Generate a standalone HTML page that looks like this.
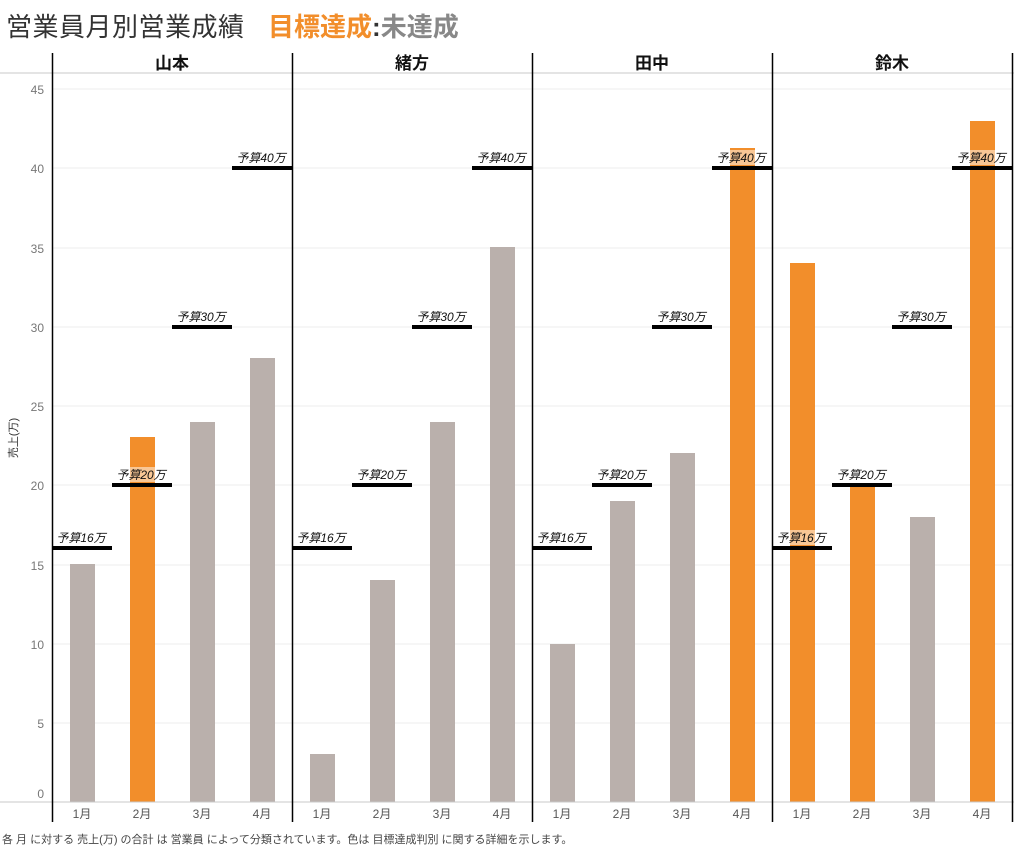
<!DOCTYPE html>
<html><head><meta charset="utf-8">
<style>
body{margin:0;background:#fff;}
svg{display:block;font-family:"Liberation Sans","Noto Sans CJK JP",sans-serif;}
</style></head><body>
<svg width="1014" height="849" viewBox="0 0 1014 849" xmlns="http://www.w3.org/2000/svg">
<text x="6" y="36" font-size="26" fill="#333" letter-spacing="0.5">営業員月別営業成績</text>
<text x="268" y="36" font-size="26" font-weight="bold" fill="#f28e2b">目標達成<tspan fill="#333">:</tspan><tspan fill="#888">未達成</tspan></text>
<line x1="0" y1="73" x2="1014" y2="73" stroke="#c8c8c8"/>
<g stroke="#eee" stroke-width="1">
<line x1="52" y1="89" x2="1012" y2="89"/><line x1="52" y1="168" x2="1012" y2="168"/>
<line x1="52" y1="248" x2="1012" y2="248"/><line x1="52" y1="327" x2="1012" y2="327"/>
<line x1="52" y1="406" x2="1012" y2="406"/><line x1="52" y1="485" x2="1012" y2="485"/>
<line x1="52" y1="565" x2="1012" y2="565"/><line x1="52" y1="644" x2="1012" y2="644"/>
<line x1="52" y1="723" x2="1012" y2="723"/>
</g>
<g font-size="12" fill="#777" text-anchor="end">
<text x="44" y="94">45</text><text x="44" y="173">40</text><text x="44" y="253">35</text>
<text x="44" y="332">30</text><text x="44" y="411">25</text><text x="44" y="490">20</text>
<text x="44" y="570">15</text><text x="44" y="649">10</text><text x="44" y="728">5</text>
<text x="44" y="798">0</text>
</g>
<text transform="translate(17,438) rotate(-90)" font-size="11" fill="#333" text-anchor="middle">売上(万)</text>
<g font-size="17" font-weight="bold" fill="#111" text-anchor="middle">
<text x="172" y="69">山本</text><text x="412" y="69">緒方</text><text x="652" y="69">田中</text><text x="892" y="69">鈴木</text>
</g>
<g>
<rect x="70" y="564" width="25" height="238" fill="#bab0ac"/>
<rect x="130" y="437" width="25" height="365" fill="#f28e2b"/>
<rect x="190" y="422" width="25" height="380" fill="#bab0ac"/>
<rect x="250" y="358" width="25" height="444" fill="#bab0ac"/>
<rect x="310" y="754" width="25" height="48" fill="#bab0ac"/>
<rect x="370" y="580" width="25" height="222" fill="#bab0ac"/>
<rect x="430" y="422" width="25" height="380" fill="#bab0ac"/>
<rect x="490" y="247" width="25" height="555" fill="#bab0ac"/>
<rect x="550" y="644" width="25" height="158" fill="#bab0ac"/>
<rect x="610" y="501" width="25" height="301" fill="#bab0ac"/>
<rect x="670" y="453" width="25" height="349" fill="#bab0ac"/>
<rect x="730" y="148" width="25" height="654" fill="#f28e2b"/>
<rect x="790" y="263" width="25" height="539" fill="#f28e2b"/>
<rect x="850" y="485" width="25" height="317" fill="#f28e2b"/>
<rect x="910" y="517" width="25" height="285" fill="#bab0ac"/>
<rect x="970" y="121" width="25" height="681" fill="#f28e2b"/>
</g>
<g fill="#000">
<rect x="52" y="546" width="60" height="4"/><rect x="112" y="483" width="60" height="4"/><rect x="172" y="325" width="60" height="4"/><rect x="232" y="166" width="60" height="4"/>
<rect x="292" y="546" width="60" height="4"/><rect x="352" y="483" width="60" height="4"/><rect x="412" y="325" width="60" height="4"/><rect x="472" y="166" width="60" height="4"/>
<rect x="532" y="546" width="60" height="4"/><rect x="592" y="483" width="60" height="4"/><rect x="652" y="325" width="60" height="4"/><rect x="712" y="166" width="60" height="4"/>
<rect x="772" y="546" width="60" height="4"/><rect x="832" y="483" width="60" height="4"/><rect x="892" y="325" width="60" height="4"/><rect x="952" y="166" width="60" height="4"/>
</g>
<g fill="#fff" fill-opacity="0.5">
<rect x="130" y="467" width="25" height="15"/><rect x="730" y="150" width="25" height="15"/>
<rect x="790" y="530" width="25" height="15"/><rect x="850" y="467" width="25" height="15"/><rect x="970" y="150" width="25" height="15"/>
</g>
<g font-size="12" font-style="italic" fill="#111" text-anchor="middle">
<text x="81" y="542">予算16万</text><text x="141" y="479">予算20万</text><text x="201" y="321">予算30万</text><text x="261" y="162">予算40万</text>
<text x="321" y="542">予算16万</text><text x="381" y="479">予算20万</text><text x="441" y="321">予算30万</text><text x="501" y="162">予算40万</text>
<text x="561" y="542">予算16万</text><text x="621" y="479">予算20万</text><text x="681" y="321">予算30万</text><text x="741" y="162">予算40万</text>
<text x="801" y="542">予算16万</text><text x="861" y="479">予算20万</text><text x="921" y="321">予算30万</text><text x="981" y="162">予算40万</text>
</g>
<line x1="0" y1="802" x2="1014" y2="802" stroke="#c8c8c8"/>
<g stroke="#000" stroke-width="1.5">
<line x1="52.5" y1="53" x2="52.5" y2="822"/><line x1="292.5" y1="53" x2="292.5" y2="822"/>
<line x1="532.5" y1="53" x2="532.5" y2="822"/><line x1="772.5" y1="53" x2="772.5" y2="822"/>
<line x1="1012.5" y1="53" x2="1012.5" y2="822"/>
</g>
<g font-size="12" fill="#555" text-anchor="middle">
<text x="82" y="818">1月</text><text x="142" y="818">2月</text><text x="202" y="818">3月</text><text x="262" y="818">4月</text>
<text x="322" y="818">1月</text><text x="382" y="818">2月</text><text x="442" y="818">3月</text><text x="502" y="818">4月</text>
<text x="562" y="818">1月</text><text x="622" y="818">2月</text><text x="682" y="818">3月</text><text x="742" y="818">4月</text>
<text x="802" y="818">1月</text><text x="862" y="818">2月</text><text x="922" y="818">3月</text><text x="982" y="818">4月</text>
</g>
<text x="2" y="843" font-size="11" fill="#444">各 月 に対する 売上(万) の合計 は 営業員 によって分類されています。色は 目標達成判別 に関する詳細を示します。</text>
</svg>
</body></html>
